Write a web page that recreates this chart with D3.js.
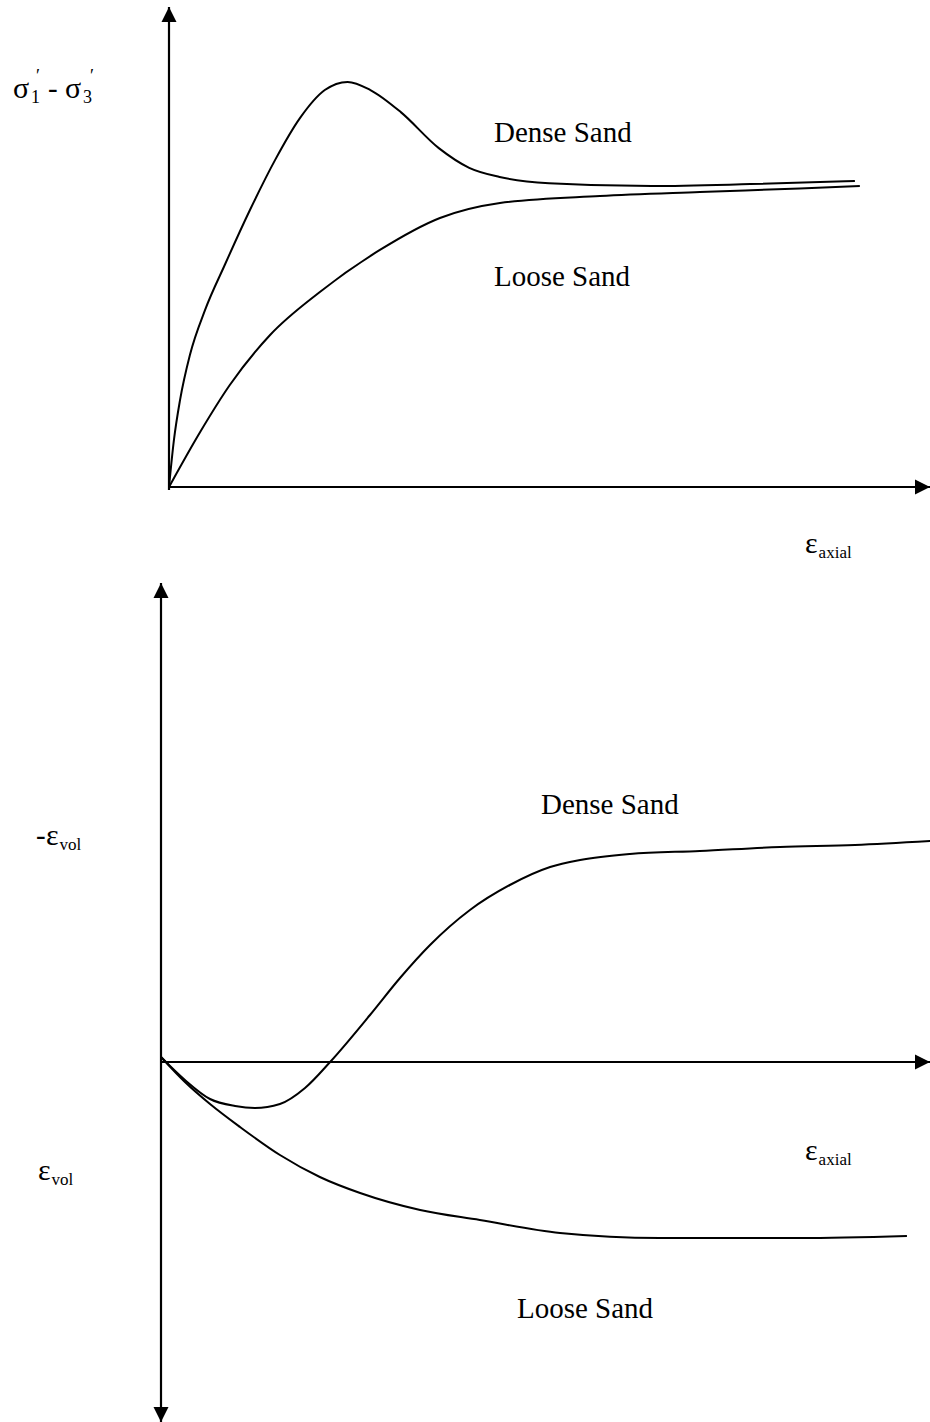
<!DOCTYPE html>
<html>
<head>
<meta charset="utf-8">
<script src="https://cdn.jsdelivr.net/npm/d3@7"></script>
<style>
  html, body { margin: 0; padding: 0; background: #fff; }
  svg { display: block; }
  text { font-family: "Liberation Serif", "Times New Roman", serif; fill: #000; }
</style>
</head>
<body>
<svg id="chart" width="930" height="1422"></svg>
<script>
// Axial strain (%) sampled along each curve
const denseStressStrain = [0, 0.13, 0.29, 0.55, 0.95, 1.47, 2.13, 2.79, 3.45, 4.1, 4.7, 5.3, 6.1, 7.1, 7.9, 8.7, 10.0, 12.7, 15.3, 18.05];
// Deviator stress (arbitrary units) for dense sand
const denseDeviator = [0, 9.8, 18.1, 27.5, 36.9, 46.3, 57.7, 68.1, 76.9, 82.7, 84.4, 82.7, 78.1, 70.6, 66.5, 64.6, 63.3, 62.7, 63.1, 63.75];

const looseStressStrain = [0, 0.82, 1.6, 2.66, 3.97, 5.55, 7.13, 8.71, 11.34, 13.97, 16.6, 18.18];
// Deviator stress for loose sand
const looseDeviator = [0, 11.46, 21.25, 31.67, 40.63, 49.38, 56.04, 59.17, 60.63, 61.46, 62.19, 62.71];

// Volume change: axial strain (%) and dilation (-εvol, %)
const denseVolStrain = [0, 0.63, 1.29, 1.95, 2.47, 3.13, 3.79, 4.45, 5.5, 6.29, 7.08, 8.13, 9.18, 10.24, 11.03, 12.34, 14.18, 16.29, 18.26, 20.24];
const denseDilation = [0.1, -0.36, -0.74, -0.88, -0.92, -0.84, -0.52, 0, 0.94, 1.68, 2.34, 3.04, 3.54, 3.9, 4.04, 4.16, 4.22, 4.3, 4.34, 4.42];

const looseVolStrain = [0, 0.63, 1.29, 2.08, 3.13, 4.18, 5.24, 6.82, 8.39, 10.5, 13.13, 16.82, 19.63];
const looseDilation = [0.1, -0.4, -0.84, -1.3, -1.86, -2.3, -2.62, -2.96, -3.16, -3.42, -3.52, -3.52, -3.48];

const svg = d3.select("#chart");

// Arrowhead marker
const defs = svg.append("defs");
defs.append("marker")
  .attr("id", "arrow")
  .attr("viewBox", "0 0 10 10")
  .attr("refX", 10).attr("refY", 5)
  .attr("markerUnits", "userSpaceOnUse")
  .attr("markerWidth", 15).attr("markerHeight", 16)
  .attr("orient", "auto")
  .append("path")
  .attr("d", "M0,0L10,5L0,10Z")
  .attr("fill", "#000");

function axisLine(g, x1, y1, x2, y2) {
  g.append("line")
    .attr("x1", x1).attr("y1", y1).attr("x2", x2).attr("y2", y2)
    .attr("stroke", "#000").attr("stroke-width", 2.2)
    .attr("marker-end", "url(#arrow)");
}

function curve(g, xs, ys, x, y) {
  const pts = xs.map((v, i) => [v, ys[i]]);
  g.append("path")
    .datum(pts)
    .attr("fill", "none")
    .attr("stroke", "#000")
    .attr("stroke-width", 2)
    .attr("d", d3.line().x(d => x(d[0])).y(d => y(d[1])).curve(d3.curveMonotoneX));
}

function txt(g, s, x, y, size) {
  g.append("text").attr("x", x).attr("y", y).style("font-size", size + "px").text(s);
}
// ε with a subscript placed right after the Greek letter
function epsLabel(g, x, y, sub) {
  const t = g.append("text").attr("x", x).attr("y", y).style("font-size", "30px");
  t.append("tspan").text("ε");
  t.append("tspan").attr("dx", 1).attr("dy", 5).style("font-size", "17px").text(sub);
}

// ---- Stress–strain panel ----
const stressPanel = svg.append("g");
const xTop = d3.scaleLinear().domain([0, 20]).range([169, 929]);
const yTop = d3.scaleLinear().domain([0, 100]).range([487, 7]);

axisLine(stressPanel, xTop(0), yTop(0) + 3, xTop(0), yTop(100));
axisLine(stressPanel, xTop(0), yTop(0), 930, yTop(0));

curve(stressPanel, denseStressStrain, denseDeviator, xTop, yTop);
curve(stressPanel, looseStressStrain, looseDeviator, xTop, yTop);

// y-axis label: σ1′ - σ3′
txt(stressPanel, "σ", 13, 98, 30);
txt(stressPanel, "1", 31, 103, 18);
txt(stressPanel, "′", 36, 82, 18);
txt(stressPanel, "-", 48, 98, 29);
txt(stressPanel, "σ", 65, 98, 30);
txt(stressPanel, "3", 83, 103, 18);
txt(stressPanel, "′", 90, 82, 18);

txt(stressPanel, "Dense Sand", 494, 142, 29);
txt(stressPanel, "Loose Sand", 494, 286, 29);
epsLabel(stressPanel, 805, 553, "axial");

// ---- Volume-change panel ----
const volPanel = svg.append("g");
const xBot = d3.scaleLinear().domain([0, 20]).range([161, 921]);
const yBot = d3.scaleLinear().domain([-7.2, 9.58]).range([1422, 583]);

axisLine(volPanel, xBot(0), yBot(0), xBot(0), yBot(9.58));
axisLine(volPanel, xBot(0), yBot(0), xBot(0), yBot(-7.2));
axisLine(volPanel, xBot(0), yBot(0), 930, yBot(0));

curve(volPanel, denseVolStrain, denseDilation, xBot, yBot);
curve(volPanel, looseVolStrain, looseDilation, xBot, yBot);

txt(volPanel, "Dense Sand", 541, 814, 29);
txt(volPanel, "Loose Sand", 517, 1318, 29);

txt(volPanel, "-", 36, 845, 29);
epsLabel(volPanel, 46, 845, "vol");
epsLabel(volPanel, 38, 1180, "vol");
epsLabel(volPanel, 805, 1160, "axial");
</script>
</body>
</html>
